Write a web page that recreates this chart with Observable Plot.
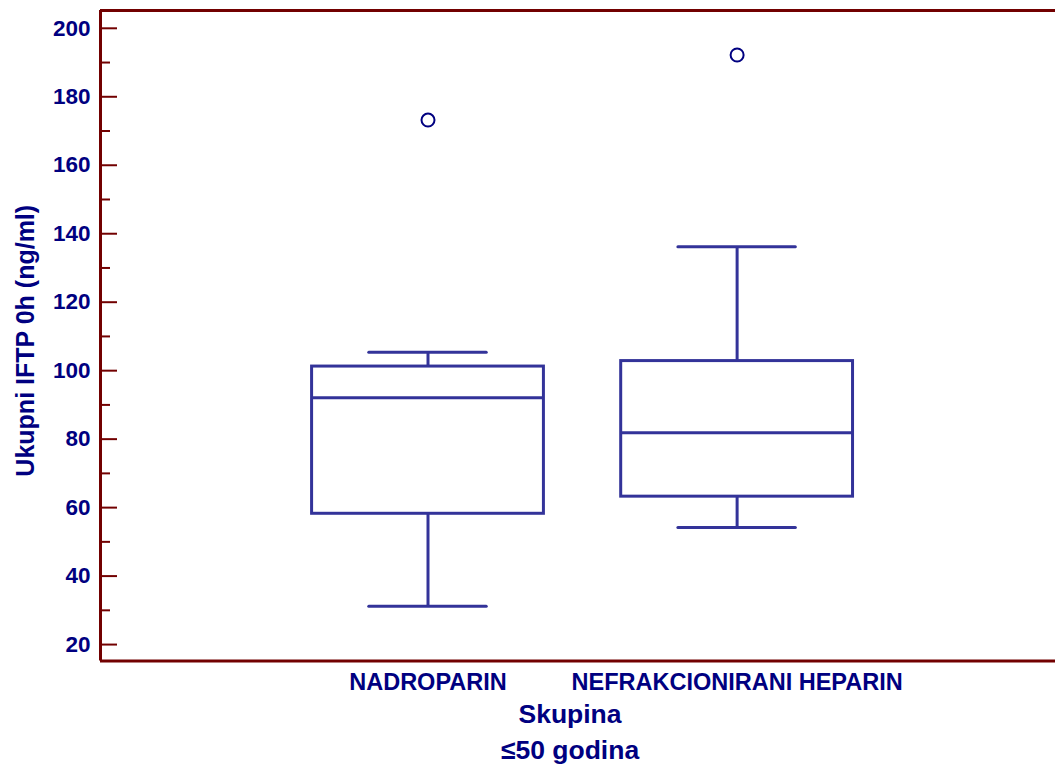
<!DOCTYPE html>
<html>
<head>
<meta charset="utf-8">
<script src="https://cdn.jsdelivr.net/npm/d3@7"></script>
<script src="https://cdn.jsdelivr.net/npm/@observablehq/plot@0.6"></script>
<style>
  html, body { margin: 0; padding: 0; background: #ffffff; }
  #chart svg { display: block; }
</style>
</head>
<body>
<div id="chart"></div>
<script>
// ---- data ----
const categories = ["NADROPARIN", "NEFRAKCIONIRANI HEPARIN"];
const whiskerLow  = [31.2, 54.2];
const q1Values    = [58.2, 63.2];
const medians     = [92.1, 81.9];
const q3Values    = [101.2, 102.8];
const whiskerHigh = [105.4, 136.2];
const outliers    = [[173.2], [192.2]];
const yMajorTicks = [20, 40, 60, 80, 100, 120, 140, 160, 180, 200];
const yMinorTicks = [30, 50, 70, 90, 110, 130, 150, 170, 190];
const yTitle = "Ukupni IFTP 0h (ng/ml)";
const xTitle = "Skupina";
const xSubtitle = "\u226450 godina";

// ---- derived tables ----
const boxes = categories.map((c, i) => ({
  cat: c, pos: i + 1,
  lo: whiskerLow[i], q1: q1Values[i], med: medians[i], q3: q3Values[i], hi: whiskerHigh[i]
}));
const outlierPts = categories.flatMap((c, i) => outliers[i].map(v => ({pos: i + 1, v})));

const yDomain = [15.2, 205.2];
const xDomain = [-0.0595, 3.03];
const halfBox = 0.375, halfCap = 0.19;

const axisColor = "#720000";
const textColor = "#000080";
const boxColor = "#333399";
const font = "'Liberation Sans', Arial, Helvetica, sans-serif";

const chart = Plot.plot({
  width: 1055,
  height: 769,
  marginLeft: 100,
  marginRight: 0,
  marginTop: 10,
  marginBottom: 108.5,
  style: {fontFamily: font, background: "#ffffff", color: textColor},
  x: {domain: xDomain, axis: null},
  y: {domain: yDomain, axis: null},
  marks: [
    // inward tick marks on the left axis
    Plot.tickY(yMajorTicks, {y: d => d, stroke: axisColor, strokeWidth: 2, insetLeft: 1, insetRight: 955 - 17}),
    Plot.tickY(yMinorTicks, {y: d => d, stroke: axisColor, strokeWidth: 2, insetLeft: 1, insetRight: 955 - 10}),
    // frame lines (left, top, bottom)
    Plot.ruleX([xDomain[0]], {stroke: axisColor, strokeWidth: 3}),
    Plot.ruleY([yDomain[0], yDomain[1]], {stroke: axisColor, strokeWidth: 3}),
    // y tick labels
    Plot.text(yMajorTicks, {y: d => d, text: d => String(d), frameAnchor: "left", textAnchor: "end",
      lineAnchor: "middle", dx: -10, fill: textColor, fontSize: 22.5, fontWeight: "bold"}),
    // boxes
    Plot.ruleX(boxes, {x: "pos", y1: "lo", y2: "q1", stroke: boxColor, strokeWidth: 3}),
    Plot.ruleX(boxes, {x: "pos", y1: "q3", y2: "hi", stroke: boxColor, strokeWidth: 3}),
    Plot.ruleY(boxes, {y: "lo", x1: d => d.pos - halfCap, x2: d => d.pos + halfCap, stroke: boxColor, strokeWidth: 3, strokeLinecap: "round"}),
    Plot.ruleY(boxes, {y: "hi", x1: d => d.pos - halfCap, x2: d => d.pos + halfCap, stroke: boxColor, strokeWidth: 3, strokeLinecap: "round"}),
    Plot.rect(boxes, {x1: d => d.pos - halfBox, x2: d => d.pos + halfBox, y1: "q1", y2: "q3",
      fill: "none", stroke: boxColor, strokeWidth: 3}),
    Plot.ruleY(boxes, {y: "med", x1: d => d.pos - halfBox, x2: d => d.pos + halfBox, stroke: boxColor, strokeWidth: 3}),
    // outliers
    Plot.dot(outlierPts, {x: "pos", y: "v", r: 6.5, stroke: textColor, strokeWidth: 2, fill: "none"}),
    // category labels
    Plot.text(boxes, {x: "pos", text: "cat", frameAnchor: "bottom", lineAnchor: "middle", dy: 21.5,
      fill: textColor, fontSize: 23.5, fontWeight: "bold"}),
    // x titles
    Plot.text([xTitle], {text: d => d, frameAnchor: "bottom", textAnchor: "middle", lineAnchor: "middle",
      dx: -8, dy: 54, fill: textColor, fontSize: 26.5, fontWeight: "bold"}),
    Plot.text([xSubtitle], {text: d => d, frameAnchor: "bottom", textAnchor: "middle", lineAnchor: "middle",
      dx: -8, dy: 89.5, fill: textColor, fontSize: 26.5, fontWeight: "bold"}),
    // y title
    Plot.text([yTitle], {text: d => d, frameAnchor: "left", textAnchor: "middle", lineAnchor: "middle",
      rotate: -90, dx: -75, dy: 5, fill: textColor, fontSize: 25, fontWeight: "bold"})
  ]
});

document.getElementById("chart").appendChild(chart);
</script>
</body>
</html>
